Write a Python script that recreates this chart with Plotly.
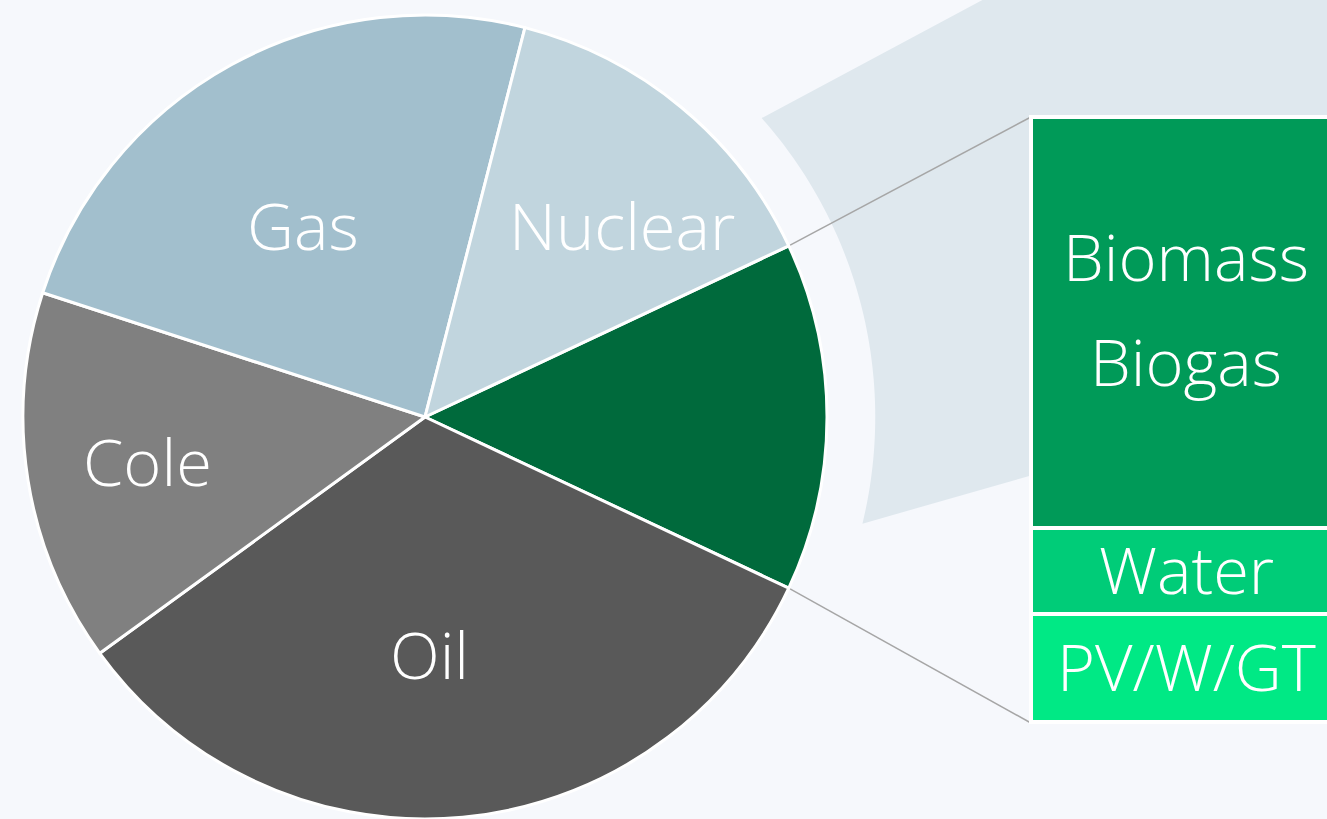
import math
import plotly.graph_objects as go

# ---------------- data ----------------
pie_labels = ["Renewables", "Oil", "Cole", "Gas", "Nuclear"]
pie_values = [14, 33, 15, 24, 14]
pie_text = ["", "Oil", "Cole", "Gas", "Nuclear"]

bar_labels = ["PV/W/GT", "Water", "Biomass"]        # stacked bottom -> top
bar_values = [2.5, 2.0, 9.5]
bar_text_lines = [["PV/W/GT"], ["Water"], ["Biomass", "Biogas"]]

# ---------------- style ----------------
pie_colors = ["#006a3c", "#595959", "#808080", "#a2bfcd", "#c1d5de"]
bar_colors = ["#00e985", "#00cc78", "#009a58"]
label_angle_offset = [0, -4.2, 0, 3.6, -6.1]
label_radius_frac = [0, 0.59, 0.70, 0.565, 0.683]

W, H = 1327, 819
BG = "#f6f8fc"
BAND = "#dfe8ee"
FONT = dict(family="Open Sans", size=65, color="white", weight=300)

R = 402.0
CX, CY = 425.0, 417.0
BAR_LEFT, BAR_W = 1031.5, 309.0
BAR_TOP, BAR_BOTTOM = 117.5, 722.5
PAD = 3.0


def paper(x, y):
    return x / W, 1 - y / H


total = sum(pie_values)
rotation = 90 - pie_values[0] / total * 180   # renewables slice centred on 3 o'clock
start_math = 90 - rotation

fig = go.Figure()
fig.add_trace(go.Pie(
    labels=pie_labels, values=pie_values, sort=False, direction="clockwise",
    rotation=rotation, textinfo="none", hoverinfo="label+value",
    marker=dict(colors=pie_colors, line=dict(color="white", width=3)),
    domain=dict(x=[(CX - R) / W, (CX + R) / W], y=[(H - CY - R) / H, (H - CY + R) / H]),
    showlegend=False,
))

# stacked bar (bar of pie)
btotal = sum(bar_values)
upp = btotal / (BAR_BOTTOM - BAR_TOP)
for lab, v, c in zip(bar_labels, bar_values, bar_colors):
    fig.add_trace(go.Bar(
        x=[0], y=[v], width=1, name=lab, xaxis="x2", yaxis="y2",
        marker=dict(color=c, line=dict(color="white", width=3.5)),
        showlegend=False, hoverinfo="name+y",
    ))

x_dom0 = (BAR_LEFT - PAD) / W
x_rng0 = -0.5 - PAD / BAR_W
x_rng1 = x_rng0 + (W - (BAR_LEFT - PAD)) / BAR_W
y_dom0 = (H - BAR_BOTTOM - PAD) / H
y_dom1 = (H - BAR_TOP + PAD) / H

# ---------------- shapes ----------------
shapes = []
RA = R * 1.12
pts = []
a0, a1 = 41.6, -13.7
n = 60
for k in range(n + 1):
    a = math.radians(a0 + (a1 - a0) * k / n)
    pts.append((CX + RA * math.cos(a), CY - RA * math.sin(a)))
bx, by = pts[-1]
slope_b = 0.285
pts.append((W + 5, by - slope_b * (W + 5 - bx)))
pts.append((W + 5, -5))
tx, ty = pts[0]
slope_t = 0.535
pts.append((tx + (ty + 5) / slope_t, -5))
path = "M " + " L ".join("%.5f,%.5f" % paper(x, y) for x, y in pts) + " Z"
shapes.append(dict(type="path", path=path, xref="paper", yref="paper",
                   fillcolor=BAND, line=dict(width=0), layer="below"))

# connector lines from renewables slice edges to bar corners
span0 = pie_values[0] / total * 360
for ang, by_ in ((start_math, BAR_TOP), (start_math - span0, BAR_BOTTOM)):
    a = math.radians(ang)
    x0, y0 = paper(CX + R * math.cos(a), CY - R * math.sin(a))
    x1, y1 = paper(BAR_LEFT - 1.5, by_)
    shapes.append(dict(type="line", xref="paper", yref="paper", x0=x0, y0=y0, x1=x1, y1=y1,
                       line=dict(color="#a6a6a6", width=1.5), layer="below"))

# ---------------- labels ----------------
annotations = []
cum = 0
for i, (t, v) in enumerate(zip(pie_text, pie_values)):
    span = v / total * 360
    mid = start_math - cum - span / 2
    cum += span
    if not t:
        continue
    a = math.radians(mid + label_angle_offset[i])
    rr = R * label_radius_frac[i]
    x, y = paper(CX + rr * math.cos(a), CY - rr * math.sin(a))
    annotations.append(dict(text=t, x=x, y=y, xref="paper", yref="paper",
                            xanchor="center", yanchor="middle", showarrow=False, font=FONT))

base = 0
for lines, v in zip(bar_text_lines, bar_values):
    mid = base + v / 2
    base += v
    nl = len(lines)
    for j, t in enumerate(lines):
        shift = (nl - 1) / 2 * 105 - j * 105 + 12 * (nl - 1) + 2
        annotations.append(dict(text=t, x=0, y=mid, xref="x2", yref="y2", yshift=shift,
                                xanchor="center", yanchor="middle", showarrow=False, font=FONT))

fig.update_layout(
    width=W, height=H, margin=dict(l=0, r=0, t=0, b=0),
    paper_bgcolor=BG, plot_bgcolor="rgba(0,0,0,0)",
    barmode="stack", bargap=0,
    xaxis2=dict(domain=[x_dom0, 1], range=[x_rng0, x_rng1], visible=False, anchor="y2"),
    yaxis2=dict(domain=[y_dom0, y_dom1], range=[-PAD * upp, btotal + PAD * upp], visible=False, anchor="x2"),
    xaxis=dict(visible=False), yaxis=dict(visible=False),
    shapes=shapes, annotations=annotations,
)

fig.write_html(
    "out.html",
    config=dict(displayModeBar=False),
    post_script="document.body.style.margin='0';document.body.style.overflow='hidden';",
)
